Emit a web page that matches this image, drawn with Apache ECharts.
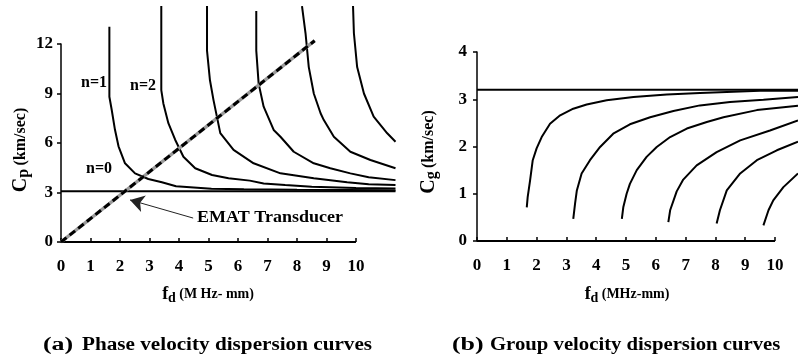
<!DOCTYPE html>
<html>
<head>
<meta charset="utf-8">
<script src="https://cdn.jsdelivr.net/npm/echarts@6/dist/echarts.min.js"></script>
<style>
  html, body { margin: 0; padding: 0; background: #fff; }
  #chart { width: 798px; height: 360px; }
</style>
</head>
<body>
<div id="chart"></div>
<script>
// Phase velocity modes, [fd (MHz-mm), Cp (km/sec)]
const phaseN0 = [[0, 3.08], [11.34, 3.08]];
const phaseN1 = [[1.64, 13.05], [1.64, 8.8], [1.72, 8.0], [1.83, 6.8], [1.95, 5.8], [2.17, 4.77], [2.51, 4.16], [2.96, 3.82], [3.42, 3.62], [3.9, 3.38], [4.5, 3.3], [5.1, 3.22], [6.2, 3.19], [8.0, 3.16], [11.34, 3.14]];
const phaseN2 = [[3.40, 14.3], [3.40, 9.2], [3.47, 8.4], [3.64, 7.2], [3.87, 6.2], [4.15, 5.17], [4.55, 4.47], [5.12, 4.06], [5.68, 3.86], [6.4, 3.72], [6.87, 3.55], [7.6, 3.45], [8.5, 3.35], [10.0, 3.28], [11.34, 3.25]];
const phaseN3 = [[4.95, 14.3], [4.95, 11.6], [5.05, 9.8], [5.17, 8.6], [5.4, 6.6], [5.85, 5.58], [6.53, 4.77], [7.44, 4.16], [8.57, 3.86], [9.7, 3.62], [10.43, 3.5], [11.34, 3.45]];
const phaseN4 = [[6.62, 14.0], [6.62, 11.6], [6.7, 9.6], [6.87, 8.2], [7.21, 6.79], [7.44, 6.38], [7.89, 5.47], [8.57, 4.77], [9.13, 4.47], [9.81, 4.16], [10.43, 3.92], [11.34, 3.75]];
const phaseN5 = [[8.17, 14.3], [8.29, 12.65], [8.4, 10.6], [8.57, 9.0], [8.8, 7.8], [8.91, 7.39], [9.25, 6.38], [9.81, 5.47], [10.49, 4.97], [11.34, 4.47]];
const phaseN6 = [[9.9, 14.3], [9.93, 12.65], [10.04, 10.6], [10.27, 9.0], [10.6, 7.6], [11.06, 6.59], [11.34, 6.08]];

// EMAT transducer line and its callout arrow (tail -> head)
const ematLine = [[0, 0], [8.6, 12.2]];
const ematArrow = [[4.48, 1.45], [2.34, 2.55]];

// Group velocity modes, [fd (MHz-mm), Cg (km/sec)]
const groupN0 = [[0, 3.2], [10.77, 3.2]];
const groupN1 = [[1.67, 0.71], [1.70, 0.93], [1.78, 1.28], [1.87, 1.71], [2.0, 1.96], [2.17, 2.2], [2.45, 2.48], [2.79, 2.66], [3.23, 2.80], [3.68, 2.89], [4.35, 2.98], [5.25, 3.05], [6.37, 3.1], [7.48, 3.13], [8.6, 3.16], [9.5, 3.18], [10.77, 3.18]];
const groupN2 = [[3.23, 0.47], [3.29, 0.79], [3.35, 1.07], [3.51, 1.43], [3.79, 1.71], [4.13, 1.99], [4.57, 2.27], [5.13, 2.47], [5.81, 2.62], [6.59, 2.75], [7.48, 2.87], [8.49, 2.94], [9.61, 2.99], [10.77, 3.05]];
const groupN3 = [[4.86, 0.47], [4.91, 0.72], [5.02, 1.0], [5.13, 1.21], [5.36, 1.5], [5.69, 1.78], [6.03, 1.99], [6.48, 2.2], [7.04, 2.38], [7.71, 2.52], [8.27, 2.62], [9.39, 2.77], [10.77, 2.86]];
const groupN4 = [[6.42, 0.40], [6.48, 0.65], [6.7, 1.05], [6.92, 1.3], [7.37, 1.6], [8.04, 1.88], [8.83, 2.13], [9.83, 2.34], [10.77, 2.55]];
const groupN5 = [[8.04, 0.37], [8.15, 0.65], [8.38, 1.07], [8.83, 1.43], [9.39, 1.71], [10.06, 1.92], [10.77, 2.1]];
const groupN6 = [[9.61, 0.33], [9.78, 0.65], [9.94, 0.86], [10.28, 1.14], [10.77, 1.43]];

// Axis ranges: the plotted fd range runs past the last labelled tick (10)
const fdTickValues = [0, 1, 2, 3, 4, 5, 6, 7, 8, 9, 10];
const fdAxisEnd = 10;
const fdMaxPhase = 11.34;
const fdMaxGroup = 10.77;
const cpTicks = { min: 0, max: 12, interval: 3 };
const cgTicks = { min: 0, max: 4, interval: 1 };

const SERIF = '"Liberation Serif", "Times New Roman", serif';

function curve(data, axisIdx, width) {
  return {
    type: 'line',
    data: data,
    xAxisIndex: axisIdx,
    yAxisIndex: axisIdx,
    showSymbol: false,
    clip: false,
    silent: true,
    lineStyle: { color: '#000', width: width || 2 }
  };
}

// x axis baseline only spans the labelled part (0..10)
function baseline(axisIdx) {
  return curve([[0, 0], [fdAxisEnd, 0]], axisIdx, 2);
}

function xAxisFor(gridIndex, max) {
  return {
    type: 'value', gridIndex: gridIndex,
    min: 0, max: max, interval: 1,
    axisLine: { show: false },
    axisTick: { show: true, inside: true, length: 4, customValues: fdTickValues, lineStyle: { color: '#000', width: 1.5 } },
    axisLabel: { fontFamily: SERIF, fontWeight: 'bold', fontSize: 17, color: '#000', margin: 16, customValues: fdTickValues },
    splitLine: { show: false }
  };
}

function yAxisFor(gridIndex, ticks, margin) {
  return {
    type: 'value', gridIndex: gridIndex,
    min: ticks.min, max: ticks.max, interval: ticks.interval,
    axisLine: { show: true, onZero: false, lineStyle: { color: '#000', width: 1.5 } },
    axisTick: { show: true, inside: false, length: 4, lineStyle: { color: '#000', width: 1.5 } },
    axisLabel: { fontFamily: SERIF, fontWeight: 'bold', fontSize: 17, color: '#000', margin: margin },
    splitLine: { show: false }
  };
}

function boldText(text, x, y, size, sx) {
  return {
    type: 'text', x: x, y: y, scaleX: sx || 1, silent: true,
    style: { text: text, font: 'bold ' + size + 'px ' + SERIF, fill: '#000', textAlign: 'left', textVerticalAlign: 'middle' }
  };
}

const richBase = { fontFamily: SERIF, fontWeight: 'bold', fill: '#000', color: '#000' };
function xTitle(text, cx, cy) {
  return {
    type: 'text', x: cx, y: cy, silent: true,
    style: {
      text: text, align: 'center', verticalAlign: 'middle',
      rich: {
        f: Object.assign({ fontSize: 18, verticalAlign: 'middle', lineHeight: 22 }, richBase),
        d: Object.assign({ fontSize: 14, verticalAlign: 'bottom', lineHeight: 14 }, richBase),
        u: Object.assign({ fontSize: 14, verticalAlign: 'middle', lineHeight: 22 }, richBase)
      }
    }
  };
}
function yTitle(text, cx, cy) {
  return {
    type: 'text', x: cx, y: cy, rotation: Math.PI / 2, silent: true,
    style: {
      text: text, align: 'center', verticalAlign: 'middle',
      rich: {
        c: Object.assign({ fontSize: 20, verticalAlign: 'middle', lineHeight: 22 }, richBase),
        s: Object.assign({ fontSize: 16, verticalAlign: 'bottom', lineHeight: 16 }, richBase),
        u: Object.assign({ fontSize: 16, verticalAlign: 'middle', lineHeight: 22 }, richBase)
      }
    }
  };
}

const chart = echarts.init(document.getElementById('chart'), null, { renderer: 'canvas' });

chart.setOption({
  animation: false,
  backgroundColor: '#fff',
  grid: [
    { left: 61, top: 44, width: 334.5, height: 198 },
    { left: 477, top: 52, width: 321, height: 189 }
  ],
  xAxis: [xAxisFor(0, fdMaxPhase), xAxisFor(1, fdMaxGroup)],
  yAxis: [yAxisFor(0, cpTicks, 8), yAxisFor(1, cgTicks, 10)],
  series: [
    baseline(0),
    curve(phaseN0, 0),
    curve(phaseN1, 0),
    curve(phaseN2, 0),
    curve(phaseN3, 0),
    curve(phaseN4, 0),
    curve(phaseN5, 0),
    curve(phaseN6, 0),
    // EMAT line: grey core under black dashes
    Object.assign(curve(ematLine, 0, 3.5), { lineStyle: { color: '#9a9a9a', width: 3.5 } }),
    Object.assign(curve(ematLine, 0, 3), {
      lineStyle: { color: '#000', width: 3, type: [7, 4] },
      markLine: {
        silent: true,
        symbol: ['none', 'arrow'],
        symbolSize: [13, 14],
        label: { show: false },
        lineStyle: { color: '#222', width: 1, type: 'solid' },
        data: [[{ coord: ematArrow[0] }, { coord: ematArrow[1] }]]
      }
    }),
    baseline(1),
    curve(groupN0, 1),
    curve(groupN1, 1),
    curve(groupN2, 1),
    curve(groupN3, 1),
    curve(groupN4, 1),
    curve(groupN5, 1),
    curve(groupN6, 1)
  ],
  graphic: [
    yTitle('{c|C}{s|p} {u|(km/sec)}', 21, 150),
    yTitle('{c|C}{s|g} {u|(km/sec)}', 429, 152),
    xTitle('{f|f}{d|d} {u|(M Hz- mm)}', 208, 294),
    xTitle('{f|f}{d|d} {u|(MHz-mm)}', 627, 294),
    boldText('n=1', 81, 83, 16),
    boldText('n=2', 130, 86, 16),
    boldText('n=0', 86, 169, 16),
    boldText('EMAT Transducer', 197, 218, 17, 1.06),
    boldText('(a)', 43, 345, 18.5, 1.4),
    boldText('Phase velocity dispersion curves', 82, 345, 18.5, 1.145),
    boldText('(b)', 452, 345, 18.5, 1.4),
    boldText('Group velocity dispersion curves', 490, 345, 18.5, 1.12)
  ]
});
</script>
</body>
</html>
